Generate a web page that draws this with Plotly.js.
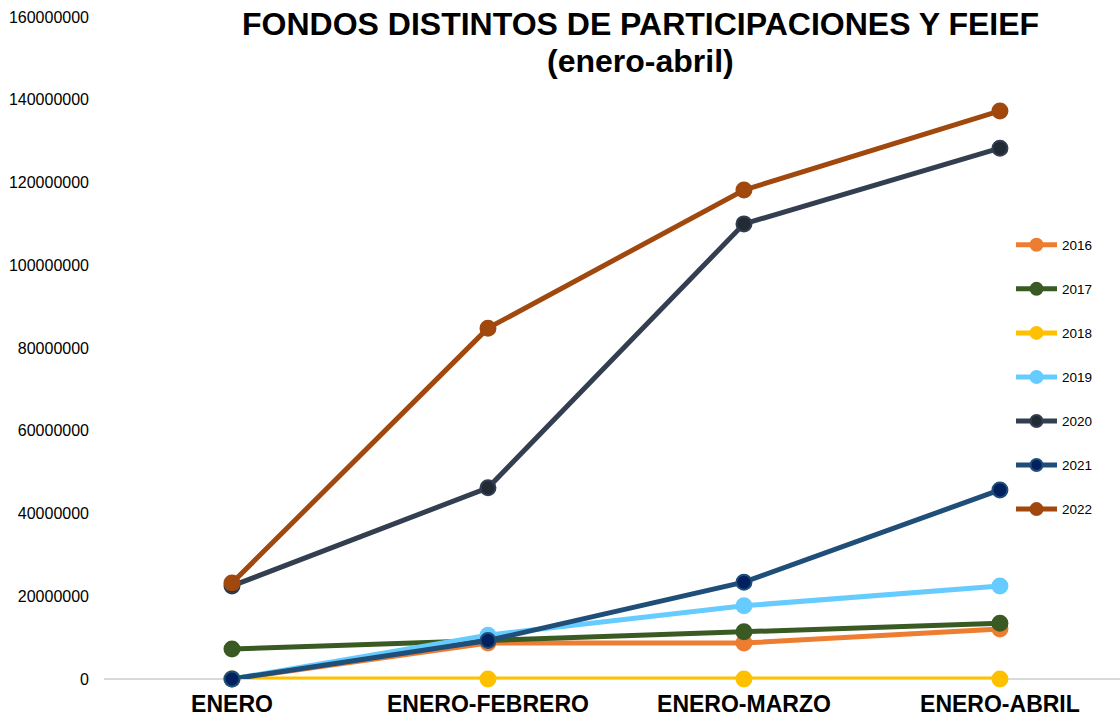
<!DOCTYPE html>
<html><head><meta charset="utf-8">
<script src="https://cdn.plot.ly/plotly-3.0.1.min.js"></script>
<style>body{margin:0;background:#fff}#chart{width:1120px;height:718px}</style>
</head><body><div id="chart"></div>
<script>
const categories = ["ENERO", "ENERO-FEBRERO", "ENERO-MARZO", "ENERO-ABRIL"];
const years = ["2016", "2017", "2018", "2019", "2020", "2021", "2022"];
const v2016 = [0, 8700000, 8700000, 12100000];
const v2017 = [7250000, 9400000, 11400000, 13500000];
const v2018 = [0, 0, 0, 0];
const v2019 = [0, 10600000, 17700000, 22500000];
const v2020 = [22500000, 46200000, 110000000, 128300000];
const v2021 = [0, 9300000, 23400000, 45700000];
const v2022 = [23200000, 84800000, 118200000, 137300000];
const yTicks = [0, 20000000, 40000000, 60000000, 80000000, 100000000, 120000000, 140000000, 160000000];
const titleLines = ["FONDOS DISTINTOS DE PARTICIPACIONES Y FEIEF", "(enero-abril)"];

const series = [v2016, v2017, v2018, v2019, v2020, v2021, v2022];
const lineColors = ["#ED7D31", "#3A5A24", "#FFC000", "#66CCFF", "#333F50", "#1F4E79", "#A0480E"];
const markerColors = ["#ED7D31", "#3A5A24", "#FFC000", "#66CCFF", "#222A35", "#002060", "#A0480E"];

const traces = series.map((vals, i) => ({
  type: "scatter", mode: "lines+markers", name: years[i],
  x: categories, y: vals, cliponaxis: false,
  legendgroup: years[i],
  line: {color: lineColors[i], width: 5},
  marker: {color: markerColors[i], size: 15, line: {color: lineColors[i], width: 2}}
}));

const FONT = "Liberation Sans, Arial, sans-serif";
const layout = {
  width: 1120, height: 718,
  margin: {l: 104, r: 0, t: 17, b: 39},
  paper_bgcolor: "#fff", plot_bgcolor: "#fff",
  font: {family: FONT, color: "#000"},
  annotations: [
    {text: "<b>" + titleLines[0] + "</b>", xref: "paper", yref: "paper", x: (640 - 104) / 1016, y: (679 - 24) / 662,
     xanchor: "center", yanchor: "middle", showarrow: false, font: {size: 32, color: "#000", family: FONT}},
    {text: "<b>" + titleLines[1] + "</b>", xref: "paper", yref: "paper", x: (640 - 104) / 1016, y: (679 - 61) / 662,
     xanchor: "center", yanchor: "middle", showarrow: false, font: {size: 32, color: "#000", family: FONT}}
  ],
  xaxis: {type: "category", range: [-0.5, 3.469], showgrid: false, showline: false, zeroline: false,
    ticks: "", ticklabelstandoff: 9, tickfont: {size: 23, color: "#000", family: FONT, weight: "bold"}},
  yaxis: {range: [0, 160000000], tickvals: yTicks, ticktext: yTicks.map(String), showgrid: false,
    zeroline: true, zerolinecolor: "#D9D9D9", zerolinewidth: 2, showline: false, ticks: "",
    tickfont: {size: 16, color: "#000"}, ticklabelstandoff: 14},
  legend: {x: (1011 - 104) / 1016, xanchor: "left", y: 0.679, yanchor: "top", font: {size: 13.5, color: "#000"},
    traceorder: "grouped", tracegroupgap: 23.5, itemwidth: 41, itemsizing: "constant", bgcolor: "rgba(0,0,0,0)"},
  showlegend: true
};
Plotly.newPlot("chart", traces, layout, {displayModeBar: false});
</script></body></html>
